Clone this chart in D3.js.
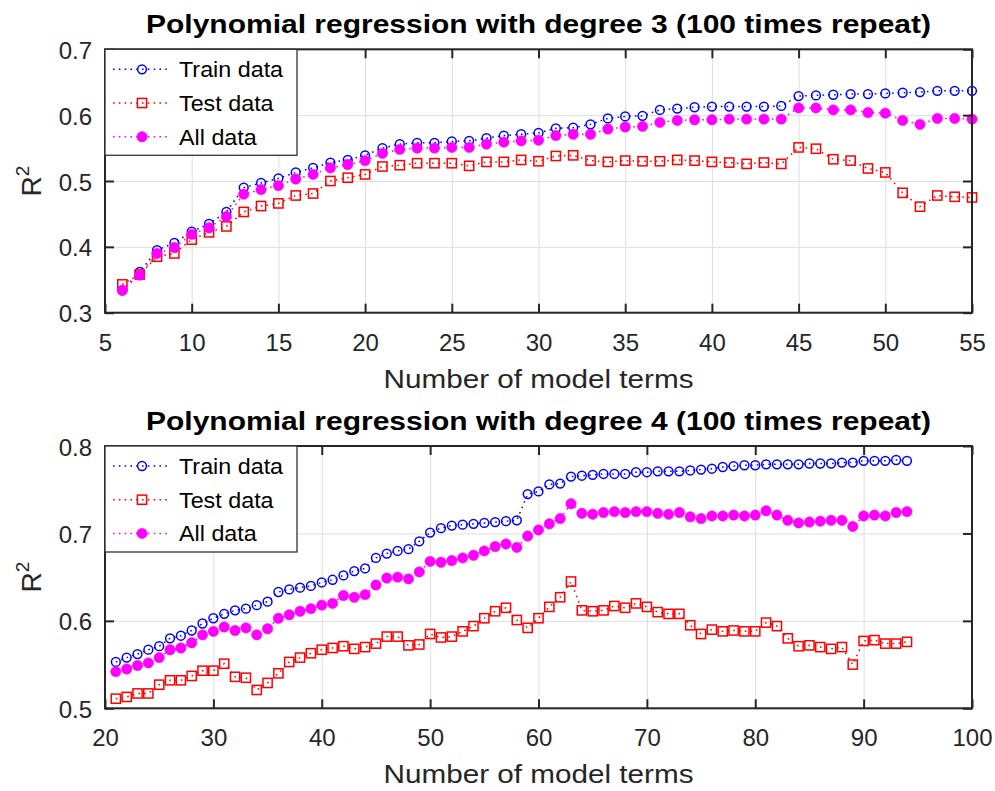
<!DOCTYPE html>
<html>
<head>
<meta charset="utf-8">
<script src="https://cdn.jsdelivr.net/npm/d3@7"></script>
<style>
  html, body { margin: 0; padding: 0; background: #fff; }
  svg { display: block; font-family: "Liberation Sans", Arial, sans-serif; }
</style>
</head>
<body>
<svg id="chart" width="995" height="791"></svg>
<script>
// ---------------- data ----------------
const terms3 = d3.range(6, 56);
const train3 = [0.334,0.362,0.395,0.406,0.423,0.435,0.453,0.490,0.497,0.504,0.513,0.520,0.528,0.532,0.539,0.550,0.556,0.558,0.558,0.560,0.561,0.565,0.569,0.571,0.573,0.580,0.581,0.586,0.595,0.598,0.599,0.608,0.610,0.612,0.613,0.613,0.613,0.613,0.614,0.629,0.630,0.631,0.632,0.632,0.633,0.634,0.635,0.637,0.637,0.637];
const test3  = [0.343,0.358,0.385,0.390,0.411,0.422,0.431,0.453,0.462,0.466,0.478,0.481,0.500,0.505,0.510,0.522,0.524,0.527,0.527,0.527,0.523,0.529,0.529,0.532,0.530,0.538,0.539,0.531,0.529,0.531,0.530,0.530,0.532,0.531,0.529,0.528,0.526,0.528,0.526,0.551,0.549,0.533,0.531,0.519,0.513,0.482,0.461,0.478,0.476,0.475];
const all3   = [0.334,0.357,0.390,0.399,0.419,0.429,0.446,0.480,0.487,0.493,0.503,0.510,0.520,0.525,0.531,0.542,0.548,0.550,0.550,0.551,0.551,0.556,0.559,0.561,0.562,0.569,0.571,0.571,0.579,0.582,0.583,0.589,0.592,0.593,0.593,0.594,0.594,0.594,0.594,0.611,0.611,0.608,0.608,0.604,0.603,0.592,0.586,0.595,0.595,0.594];

const terms4 = d3.range(21, 95);
const train4 = [0.553,0.558,0.562,0.567,0.571,0.580,0.583,0.589,0.597,0.603,0.608,0.612,0.614,0.618,0.622,0.633,0.636,0.638,0.640,0.644,0.647,0.652,0.657,0.660,0.672,0.677,0.680,0.682,0.691,0.701,0.706,0.709,0.710,0.711,0.712,0.713,0.714,0.715,0.745,0.748,0.756,0.757,0.765,0.766,0.767,0.768,0.768,0.768,0.770,0.770,0.771,0.771,0.771,0.772,0.773,0.774,0.776,0.777,0.778,0.778,0.779,0.779,0.779,0.779,0.780,0.780,0.780,0.781,0.781,0.783,0.783,0.783,0.784,0.783];
const test4  = [0.511,0.513,0.517,0.517,0.527,0.532,0.532,0.537,0.543,0.543,0.551,0.536,0.535,0.521,0.529,0.540,0.553,0.558,0.563,0.567,0.569,0.571,0.568,0.570,0.574,0.582,0.582,0.572,0.573,0.585,0.581,0.582,0.588,0.594,0.603,0.611,0.615,0.601,0.592,0.603,0.616,0.627,0.645,0.612,0.611,0.612,0.617,0.615,0.620,0.616,0.610,0.608,0.608,0.595,0.585,0.590,0.588,0.589,0.588,0.588,0.598,0.594,0.580,0.571,0.572,0.570,0.568,0.570,0.550,0.577,0.578,0.574,0.574,0.576];
const all4   = [0.542,0.545,0.549,0.552,0.558,0.567,0.569,0.575,0.584,0.588,0.593,0.589,0.592,0.584,0.591,0.603,0.607,0.611,0.614,0.618,0.620,0.629,0.627,0.630,0.641,0.649,0.650,0.648,0.656,0.668,0.667,0.669,0.672,0.675,0.680,0.685,0.688,0.684,0.697,0.704,0.711,0.717,0.734,0.723,0.722,0.724,0.725,0.724,0.725,0.725,0.723,0.722,0.724,0.719,0.717,0.720,0.720,0.721,0.720,0.721,0.726,0.721,0.715,0.712,0.713,0.714,0.715,0.715,0.708,0.720,0.721,0.720,0.724,0.725];

const xTicks3 = [5,10,15,20,25,30,35,40,45,50,55];
const yTicks3 = [0.3,0.4,0.5,0.6,0.7];
const xTicks4 = [20,30,40,50,60,70,80,90,100];
const yTicks4 = [0.5,0.6,0.7,0.8];

const seriesNames = ["Train data", "Test data", "All data"];
const title3 = "Polynomial regression with degree 3 (100 times repeat)";
const title4 = "Polynomial regression with degree 4 (100 times repeat)";
const xLabel = "Number of model terms";

// ---------------- drawing ----------------
const svg = d3.select("#chart");
const AX = "#262626";
const styles = [
  {color: "#0000ff", marker: "circle"},
  {color: "#ff0000", marker: "square"},
  {color: "#ff00ff", marker: "dot"}
];

function drawMarker(g, type, color, x, y) {
  if (type === "circle") {
    g.append("circle").attr("cx", x).attr("cy", y).attr("r", 4.4)
      .attr("fill", "none").attr("stroke", color).attr("stroke-width", 1.5);
  } else if (type === "square") {
    g.append("rect").attr("x", x - 4.6).attr("y", y - 4.6).attr("width", 9.2).attr("height", 9.2)
      .attr("fill", "none").attr("stroke", color).attr("stroke-width", 1.5);
  } else {
    g.append("circle").attr("cx", x).attr("cy", y).attr("r", 5.2)
      .attr("fill", color).attr("stroke", color).attr("stroke-width", 0.5);
  }
}

function panel(cfg) {
  const L = 105, R = 972, T = cfg.top, B = cfg.bottom;
  const x = d3.scaleLinear().domain(cfg.xDomain).range([L, R]);
  const y = d3.scaleLinear().domain(cfg.yDomain).range([B, T]);
  const g = svg.append("g");

  // grid
  g.append("g").attr("transform", `translate(0,${B})`)
    .call(d3.axisBottom(x).tickValues(cfg.xTicks).tickSize(-(B - T)).tickFormat(""))
    .call(s => { s.select(".domain").remove(); s.selectAll("line").attr("stroke", "#dedede").attr("stroke-width", 1); });
  g.append("g").attr("transform", `translate(${L},0)`)
    .call(d3.axisLeft(y).tickValues(cfg.yTicks).tickSize(-(R - L)).tickFormat(""))
    .call(s => { s.select(".domain").remove(); s.selectAll("line").attr("stroke", "#dedede").attr("stroke-width", 1); });

  // series
  const data = [cfg.train, cfg.test, cfg.all];
  data.forEach((vals, i) => {
    const st = styles[i];
    const pts = cfg.terms.map((t, k) => [x(t), y(vals[k])]);
    const sg = g.append("g");
    sg.append("path").attr("d", d3.line()(pts)).attr("fill", "none")
      .attr("stroke", st.color).attr("stroke-width", 1.5).attr("stroke-dasharray", "1.6,4.2");
    pts.forEach(p => drawMarker(sg, st.marker, st.color, p[0], p[1]));
  });

  // axes (ticks inward on all four sides)
  const tickStyle = s => { s.select(".domain").remove(); s.selectAll("line").attr("stroke", AX).attr("stroke-width", 2); };
  g.append("g").attr("transform", `translate(0,${B})`)
    .call(d3.axisBottom(x).tickValues(cfg.xTicks).tickSizeInner(-9).tickSizeOuter(0).tickFormat(d3.format("d")))
    .call(tickStyle)
    .call(s => s.selectAll("text").attr("y", 38).attr("dy", null)
      .attr("font-size", 24).attr("fill", AX).attr("font-family", "Liberation Sans, Arial, sans-serif"));
  g.append("g").attr("transform", `translate(0,${T})`)
    .call(d3.axisTop(x).tickValues(cfg.xTicks).tickSizeInner(-9).tickSizeOuter(0).tickFormat(""))
    .call(tickStyle);
  g.append("g").attr("transform", `translate(${L},0)`)
    .call(d3.axisLeft(y).tickValues(cfg.yTicks).tickSizeInner(-9).tickSizeOuter(0).tickFormat(d3.format(".1f")))
    .call(tickStyle)
    .call(s => s.selectAll("text").attr("x", -13).attr("y", 9).attr("dy", null)
      .attr("font-size", 24).attr("fill", AX).attr("font-family", "Liberation Sans, Arial, sans-serif"));
  g.append("g").attr("transform", `translate(${R},0)`)
    .call(d3.axisRight(y).tickValues(cfg.yTicks).tickSizeInner(-9).tickSizeOuter(0).tickFormat(""))
    .call(tickStyle);

  // box
  g.append("rect").attr("x", L).attr("y", T).attr("width", R - L).attr("height", B - T)
    .attr("fill", "none").attr("stroke", AX).attr("stroke-width", 2);

  // legend
  const lg = g.append("g");
  lg.append("rect").attr("x", L).attr("y", T).attr("width", 192).attr("height", 106)
    .attr("fill", "#fff").attr("stroke", "#333").attr("stroke-width", 1.3);
  seriesNames.forEach((name, i) => {
    const cy = T + 20 + i * 33.7;
    const st = styles[i];
    lg.append("line").attr("x1", 113).attr("x2", 171).attr("y1", cy).attr("y2", cy)
      .attr("stroke", st.color).attr("stroke-width", 1.5).attr("stroke-dasharray", "1.6,4.2");
    drawMarker(lg, st.marker, st.color, 142, cy);
    lg.append("text").attr("transform", `translate(179,${cy + 8}) scale(1.06,1)`)
      .attr("font-size", 22).attr("fill", "#000").text(name);
  });

  // title
  g.append("text").attr("x", (L + R) / 2).attr("y", T - 16).attr("text-anchor", "middle")
    .attr("font-size", 25).attr("font-weight", "bold").attr("fill", "#000")
    .attr("textLength", 785).attr("lengthAdjust", "spacingAndGlyphs").text(cfg.title);

  // x label
  g.append("text").attr("x", (L + R) / 2).attr("y", B + 75).attr("text-anchor", "middle")
    .attr("font-size", 25).attr("fill", AX)
    .attr("textLength", 310).attr("lengthAdjust", "spacingAndGlyphs").text(xLabel);

  // y label R^2
  const yl = g.append("text")
    .attr("transform", `translate(41,${(T + B) / 2}) rotate(-90)`)
    .attr("text-anchor", "middle").attr("font-size", 28).attr("fill", AX);
  yl.append("tspan").text("R");
  yl.append("tspan").attr("font-size", 19).attr("dy", -12).text("2");
}

panel({top: 49.3, bottom: 312.7, xDomain: [5, 55], yDomain: [0.3, 0.7],
  xTicks: xTicks3, yTicks: yTicks3, terms: terms3, train: train3, test: test3, all: all3, title: title3});
panel({top: 446, bottom: 708.3, xDomain: [20, 100], yDomain: [0.5, 0.8],
  xTicks: xTicks4, yTicks: yTicks4, terms: terms4, train: train4, test: test4, all: all4, title: title4});
</script>
</body>
</html>
